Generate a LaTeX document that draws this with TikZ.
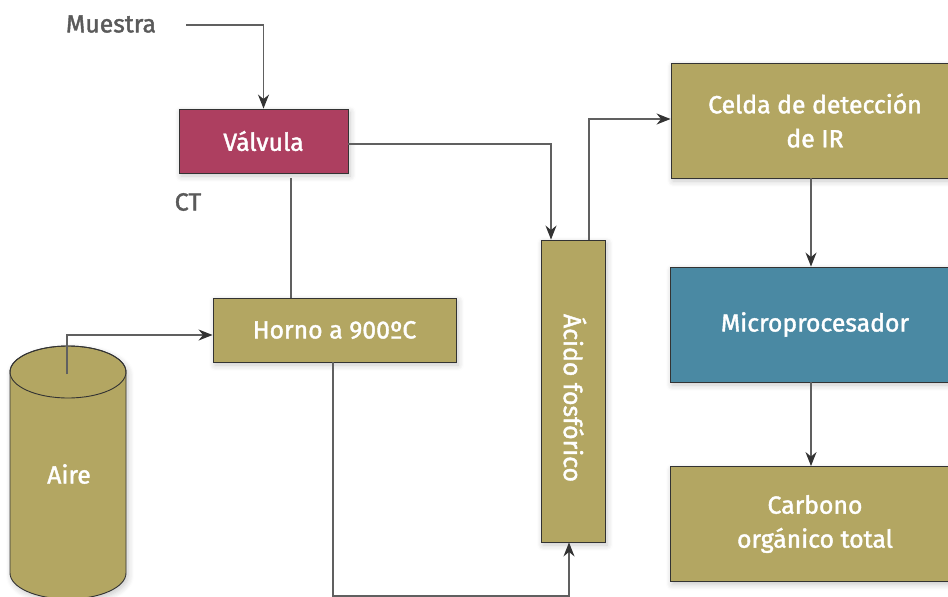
\documentclass[tikz,border=0pt]{standalone}
\usepackage{fontspec}
\setmainfont{Fira Sans}
\newfontfamily\medfont{Fira Sans}[FakeBold=1.6]
\usetikzlibrary{arrows.meta,shadows.blur,calc}
\definecolor{boxolive}{HTML}{B3A662}
\definecolor{boxred}{HTML}{AD3F60}
\definecolor{boxblue}{HTML}{4A89A3}
\definecolor{linegray}{HTML}{606060}
\definecolor{tipgray}{HTML}{333333}
\definecolor{txtgray}{HTML}{5A5A5A}
\begin{document}
\begin{tikzpicture}[x=1pt,y=-1pt,
  shd/.style={blur shadow={shadow blur steps=6,shadow xshift=2pt,shadow yshift=-3pt,shadow opacity=22,shadow blur radius=6pt}},
  wtxt/.style={text=white,font=\medfont\fontsize{24.8}{34}\selectfont},
  box/.style={draw=black!80,line width=0.9pt,inner sep=0pt,align=center,wtxt,shd},
  lbl/.style={text=txtgray,font=\medfont\fontsize{24.8}{28}\selectfont,inner sep=0pt},
  conn/.style={draw=linegray,line width=1.2pt},
  arr/.style={conn,-{Stealth[length=14pt,width=11pt,inset=4.5pt,color=tipgray]}}]
\useasboundingbox (0,0) rectangle (948,597);
% cylinder
\path[fill=boxolive,draw=black!80,line width=0.9pt,shd]
  (10,372) -- (10,573) arc[start angle=180,end angle=0,x radius=58,y radius=26]
  -- (126,372) arc[start angle=0,end angle=-180,x radius=58,y radius=26] -- cycle;
\draw[black!80,line width=0.9pt] (68,372) ellipse[x radius=58,y radius=26];
\node[wtxt,inner sep=0pt] (aire) at (69,474) {Aire};
% boxes
\node[box,fill=boxred,minimum width=169pt,minimum height=64pt] (valvula) at (263.5,141) {Válvula};
\node[box,fill=boxolive,minimum width=243pt,minimum height=64pt] (horno) at (334.5,330) {Horno a 900ºC};
\node[box,fill=boxolive,minimum width=64pt,minimum height=302pt] (acido) at (573,391) {};
\node[wtxt,inner sep=0pt,rotate=-90] (acidotxt) at (575,398) {Ácido fosfórico};
\node[box,fill=boxolive,minimum width=288pt,minimum height=115pt] (celda) at (815,120.5) {Celda de detección\\de IR};
\node[box,fill=boxblue,minimum width=290pt,minimum height=115pt] (micro) at (815,324.5) {Microprocesador};
\node[box,fill=boxolive,minimum width=290pt,minimum height=115pt] (carbono) at (815,524) {Carbono\\orgánico total};
% labels
\node[lbl] (muestra) at (111,24) {Muestra};
\node[lbl] (ct) at (188,202) {CT};
% connectors
\coordinate (m1) at (186,25);
\draw[arr] (m1) -| (valvula.north);
\coordinate (v1) at (291,178);
\draw[conn] (v1) -- (v1 |- horno.north);
\draw[arr] ([yshift=-3pt]valvula.east) -| ([xshift=-22pt]acido.north);
\draw[arr] ([xshift=16pt]acido.north) |- ([yshift=1.5pt]celda.west);
\draw[arr] ([xshift=-4pt]celda.south) -- ([xshift=-4pt]micro.north);
\draw[arr] ([xshift=-4pt]micro.south) -- ([xshift=-4pt]carbono.north);
\coordinate (a1) at (67,374);
\draw[arr] (a1) |- ([yshift=-5pt]horno.west);
\coordinate (b1) at (569,596);
\draw[arr] ([xshift=-1.5pt]horno.south) |- (b1) -- ([xshift=-4pt]acido.south);
\end{tikzpicture}
\end{document}
